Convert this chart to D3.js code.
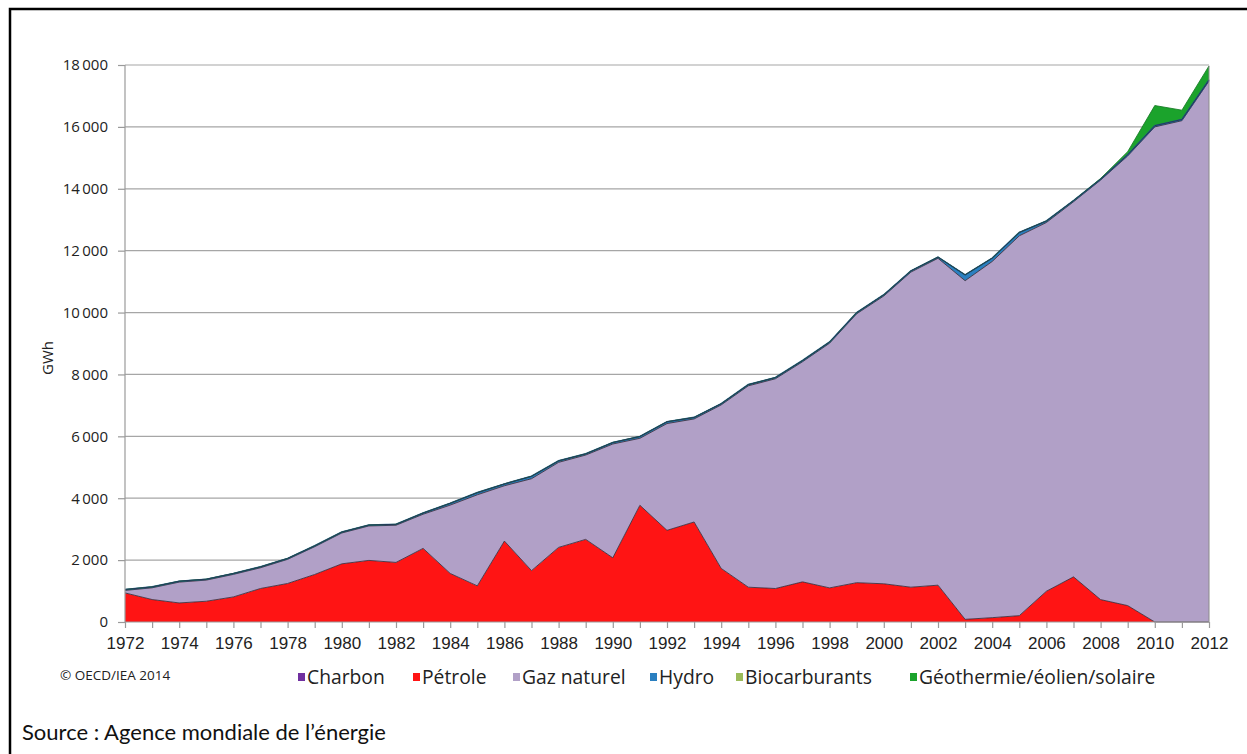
<!DOCTYPE html>
<html>
<head>
<meta charset="utf-8">
<script src="https://cdnjs.cloudflare.com/ajax/libs/d3/7.8.5/d3.min.js"></script>
<style>
  html, body { margin: 0; padding: 0; background: #fff; }
  svg { display: block; }
</style>
</head>
<body>
<svg id="chart" width="1247" height="754"></svg>
<script>
const years = d3.range(1972, 2013);
const charbon = years.map(() => 0);
const petrole = [940, 726, 616, 671, 810, 1083, 1245, 1536, 1880, 1990,
  1925, 2379, 1569, 1167, 2616, 1660, 2411, 2670, 2075, 3773,
  2962, 3232, 1731, 1125, 1082, 1297, 1102, 1270, 1235, 1125,
  1190, 86, 140, 205, 994, 1459, 724, 530, 0, 0, 0];
const gaz = [80, 379, 673, 683, 729, 670, 780, 897, 997, 1114,
  1202, 1104, 2208, 2944, 1787, 2970, 2748, 2725, 3677, 2164,
  3451, 3330, 5285, 6507, 6778, 7113, 7908, 8690, 9301, 10183,
  10563, 10943, 11510, 12275, 11916, 12121, 13556, 14530, 16000, 16200, 17480];
const hydro = [30, 30, 30, 30, 30, 30, 30, 30, 30, 30,
  30, 40, 60, 70, 60, 80, 50, 40, 50, 60,
  60, 50, 40, 40, 40, 40, 40, 40, 40, 40,
  40, 190, 110, 110, 50, 40, 30, 40, 40, 40, 40];
const biocarburants = years.map(() => 0);
const geothermie = [0, 0, 0, 0, 0, 0, 0, 0, 0, 0,
  0, 0, 0, 0, 0, 0, 0, 0, 0, 0,
  0, 0, 0, 0, 0, 0, 0, 0, 0, 0,
  0, 0, 0, 0, 0, 0, 20, 100, 650, 300, 450];
const yTicks = [0, 2000, 4000, 6000, 8000, 10000, 12000, 14000, 16000, 18000];
const xTickLabels = d3.range(1972, 2013, 2);

const seriesNames = ["Charbon", "Pétrole", "Gaz naturel", "Hydro", "Biocarburants", "Géothermie/éolien/solaire"];
const seriesValues = [charbon, petrole, gaz, hydro, biocarburants, geothermie];
const colors = ["#7030A0", "#FF1414", "#B1A0C7", "#2A7FC0", "#9BBB59", "#1BA32C"];

const rows = years.map((y, i) => {
  const r = { year: y };
  seriesNames.forEach((n, k) => r[n] = seriesValues[k][i]);
  return r;
});

const svg = d3.select("#chart");

// frame
svg.append("rect").attr("x", 10).attr("y", 9).attr("width", 1260).attr("height", 780)
  .attr("fill", "none").attr("stroke", "#000").attr("stroke-width", 2.5);

const x = d3.scaleLinear().domain([1972, 2012]).range([125, 1209]);
const y = d3.scaleLinear().domain([0, 18000]).range([622, 65]);

// gridlines
svg.append("g").selectAll("line").data(yTicks.filter(d => d > 0)).join("line")
  .attr("x1", 125).attr("x2", 1209)
  .attr("y1", d => y(d)).attr("y2", d => y(d))
  .attr("stroke", "#a6a6a6").attr("stroke-width", 1.2);

const stack = d3.stack().keys(seriesNames);
const stacked = stack(rows);

const area = d3.area()
  .x(d => x(d.data.year))
  .y0(d => y(d[0]))
  .y1(d => y(d[1]));
const topLine = d3.line()
  .x(d => x(d.data.year))
  .y(d => y(d[1]));

const g = svg.append("g");
stacked.forEach((s, k) => {
  g.append("path").datum(s).attr("d", area).attr("fill", colors[k]);
});
stacked.forEach((s, k) => {
  const v = seriesValues[k];
  if (d3.max(v) === 0) return;
  g.append("path").datum(s).attr("d", topLine)
    .attr("fill", "none")
    .attr("stroke", k === 3 ? "#1f5f8f" : (k === 5 ? "#147a22" : "#3a2a3a"))
    .attr("stroke-width", k === 3 ? 1.6 : 1)
    .attr("stroke-opacity", 0.85);
});
g.append("path").datum(stacked[3]).attr("d", topLine)
  .attr("fill", "none").attr("stroke", "#23395b").attr("stroke-width", 1);

// right edge of plot
svg.append("line").attr("x1", 1209).attr("x2", 1209).attr("y1", y(d3.sum(seriesValues, s => s[40]))).attr("y2", 622)
  .attr("stroke", "#8a8a8a").attr("stroke-width", 1);

// y axis
const yAxis = d3.axisLeft(y).tickValues(yTicks).tickSize(7)
  .tickFormat(d => d3.format(",")(d).replace(",", "\u2009"));
const yg = svg.append("g").attr("transform", "translate(125,0)").call(yAxis);
yg.select(".domain").attr("stroke", "#9a9a9a").attr("stroke-width", 1.2).attr("d", "M0,65V622");
yg.selectAll(".tick line").attr("stroke", "#9a9a9a").attr("stroke-width", 1.2);
yg.selectAll(".tick text").attr("font-family", "'Open Sans', sans-serif").attr("font-size", 15)
  .attr("fill", "#222").attr("x", -17);

// x axis
const xAxis = d3.axisBottom(x).tickValues(years).tickSize(6)
  .tickFormat(d => (xTickLabels.includes(d) ? d : ""));
const xg = svg.append("g").attr("transform", "translate(0,622)").call(xAxis);
xg.select(".domain").attr("stroke", "#9a9a9a").attr("stroke-width", 1.2).attr("d", "M125,0H1209");
xg.selectAll(".tick line").attr("stroke", "#9a9a9a").attr("stroke-width", 1.2);
xg.selectAll(".tick text").attr("font-family", "'Liberation Sans', Arial, sans-serif").attr("font-size", 17)
  .attr("fill", "#222").attr("y", 15);

// y label
svg.append("text").attr("transform", "translate(53,358) rotate(-90)")
  .attr("text-anchor", "middle").attr("font-family", "'Open Sans', sans-serif")
  .attr("font-size", 15).attr("fill", "#222").text("GWh");

// copyright
svg.append("text").attr("x", 60).attr("y", 680).attr("font-family", "'Open Sans', sans-serif")
  .attr("font-size", 13.5).attr("fill", "#222").text("© OECD/IEA 2014");

// legend
const legendX = [298, 413, 513, 650, 736, 910];
const lg = svg.append("g");
seriesNames.forEach((n, k) => {
  lg.append("rect").attr("x", legendX[k]).attr("y", 673).attr("width", 7).attr("height", 8).attr("fill", colors[k]);
  lg.append("text").attr("x", legendX[k] + 9).attr("y", 684)
    .attr("font-family", "'Open Sans', sans-serif").attr("font-size", 19.3).attr("fill", "#222").text(n);
});

// source
svg.append("text").attr("x", 22).attr("y", 740).attr("font-family", "Lato, 'Open Sans', sans-serif")
  .attr("font-size", 22).attr("fill", "#111").text("Source : Agence mondiale de l\u2019énergie");
</script>
</body>
</html>
